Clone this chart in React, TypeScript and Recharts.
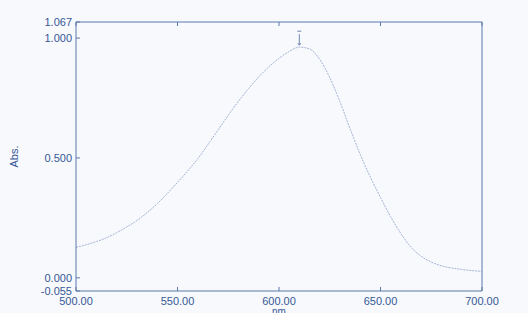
import * as React from 'react';
import {
  LineChart,
  Line,
  XAxis,
  YAxis,
  ReferenceDot,
} from 'recharts';

// wavelength (nm) and absorbance
const wavelengths = [
  500, 505, 510, 515, 520, 525, 530, 535, 540, 545, 550, 555, 560, 565, 570,
  575, 580, 585, 590, 595, 600, 605, 610, 615, 620, 625, 630, 635, 640, 645,
  650, 655, 660, 665, 670, 675, 680, 685, 690, 695, 700,
];
const absorbance = [
  0.127, 0.138, 0.151, 0.167, 0.188, 0.212, 0.239, 0.272, 0.309, 0.352, 0.398,
  0.446, 0.497, 0.556, 0.617, 0.678, 0.736, 0.789, 0.838, 0.88, 0.915, 0.944,
  0.962, 0.955, 0.912, 0.835, 0.735, 0.622, 0.515, 0.42, 0.335, 0.255, 0.185,
  0.128, 0.09, 0.066, 0.05, 0.041, 0.035, 0.03, 0.027,
];
const xTicks = [500, 550, 600, 650, 700];
const yTicks = [-0.055, 0, 0.5, 1.0, 1.067];
const rightTicks = [0, 0.5, 1.0];
const peak = { nm: 610, abs: 0.962 };

const data = wavelengths.map((nm, i) => ({ nm, abs: absorbance[i] }));

const AXIS = '#5a78ad';
const TEXT = '#365897';
const FONT = '"Liberation Sans", Arial, sans-serif';

const PeakMarker = (props: any) => {
  const { cx, cy } = props;
  if (cx == null || cy == null) return null;
  return (
    <g stroke="#6f86b5" strokeWidth={1}>
      <line x1={cx - 2} x2={cx + 2} y1={cy - 16} y2={cy - 16} />
      <line x1={cx} x2={cx} y1={cy - 13} y2={cy - 2} />
      <line x1={cx - 1.5} x2={cx} y1={cy - 4} y2={cy - 2} />
      <line x1={cx + 1.5} x2={cx} y1={cy - 4} y2={cy - 2} />
    </g>
  );
};

export default function App() {
  return (
    <div
      style={{
        position: 'absolute',
        left: 0,
        top: 0,
        width: 528,
        height: 313,
        background: '#f7f9fc',
        overflow: 'hidden',
      }}
    >
      <LineChart
        width={528}
        height={313}
        data={data}
        margin={{ top: 21, right: 45, bottom: 0, left: 0 }}
      >
        <XAxis
          dataKey="nm"
          type="number"
          domain={[500, 700]}
          ticks={xTicks}
          tickFormatter={(v: number) => v.toFixed(2)}
          height={22}
          stroke={AXIS}
          tickSize={-4}
          tickMargin={10}
          tick={{ fill: TEXT, fontSize: 11, fontFamily: FONT }}
          interval={0}
          label={{
            value: 'nm',
            position: 'insideBottom',
            offset: -2,
            fill: TEXT,
            fontSize: 10,
            fontFamily: FONT,
          }}
        />
        <XAxis
          xAxisId="top"
          orientation="top"
          dataKey="nm"
          type="number"
          domain={[500, 700]}
          ticks={xTicks}
          tickFormatter={() => ''}
          height={1}
          stroke={AXIS}
          tickSize={-4}
          interval={0}
        />
        <YAxis
          type="number"
          domain={[-0.055, 1.067]}
          ticks={yTicks}
          tickFormatter={(v: number) => v.toFixed(3)}
          width={76}
          stroke={AXIS}
          tickSize={-4}
          tickMargin={8}
          interval={0}
          tick={{ fill: TEXT, fontSize: 11, fontFamily: FONT }}
          label={{
            value: 'Abs.',
            angle: -90,
            position: 'insideLeft',
            offset: 14,
            fill: TEXT,
            fontSize: 11,
            fontFamily: FONT,
            style: { textAnchor: 'middle' },
          }}
        />
        <YAxis
          yAxisId="right"
          orientation="right"
          type="number"
          domain={[-0.055, 1.067]}
          ticks={rightTicks}
          tickFormatter={() => ''}
          width={1}
          stroke={AXIS}
          tickSize={-4}
          interval={0}
        />
        <Line
          type="monotone"
          dataKey="abs"
          stroke="#a3b4d3"
          strokeWidth={1}
          strokeDasharray="2 1"
          dot={false}
          isAnimationActive={false}
        />
        <ReferenceDot
          x={peak.nm}
          y={peak.abs}
          r={0}
          shape={PeakMarker}
        />
      </LineChart>
    </div>
  );
}
